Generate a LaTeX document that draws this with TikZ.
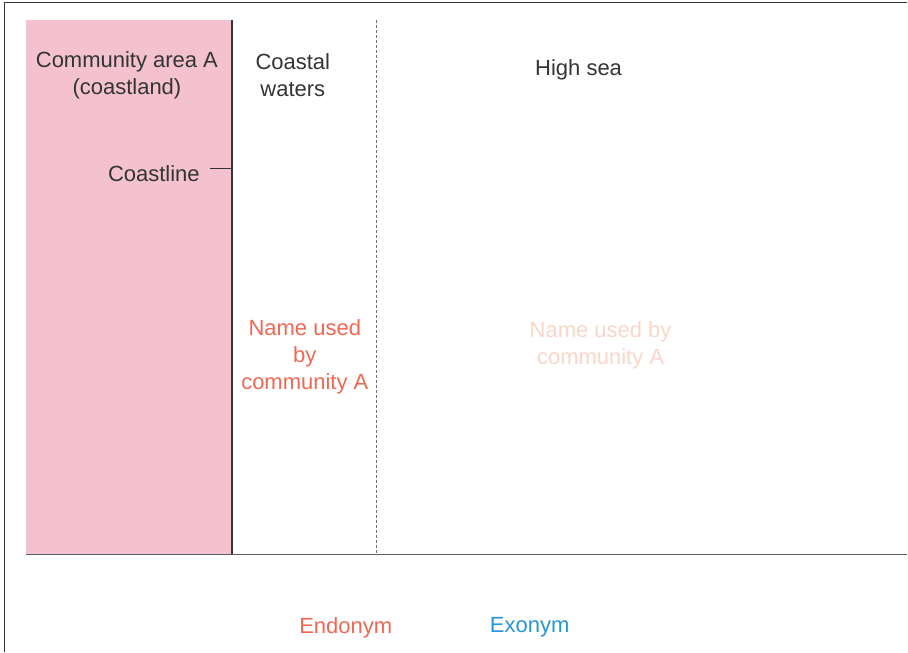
\documentclass[tikz,border=0pt]{standalone}
\usepackage{fontspec}
\setmainfont{Liberation Sans}
\definecolor{landpink}{RGB}{244,194,206}
\definecolor{endored}{RGB}{240,104,84}
\definecolor{fadered}{RGB}{250,214,200}
\definecolor{exoblue}{RGB}{38,150,216}
\definecolor{inkgray}{RGB}{50,52,54}

\begin{document}
\begin{tikzpicture}[x=1pt,y=-1pt,
  lbl/.style={text=inkgray,align=center,font=\fontsize{22}{27}\selectfont,inner sep=0pt}]
\path (0,0) rectangle (908,652);
\draw[inkgray,line width=1.2pt] (4.5,652) -- (4.5,2.5) -- (908,2.5);
\fill[landpink] (26,20) rectangle (232,555);
\draw[inkgray,line width=1.6pt] (232,20) -- (232,555);
\draw[inkgray!70,line width=0.6pt,dashed,dash pattern=on 3pt off 2pt] (377,20) -- (377,555);
\draw[inkgray!80,line width=1.2pt] (26,555) -- (908,555);
\node[lbl] (land) at (127,75) {Community area A\\(coastland)};
\node[lbl] (waters) at (293,75) {Coastal\\waters};
\node[lbl] (highsea) at (579,70) {High sea};
\node[lbl,anchor=east,inner xsep=10pt] (coastline) at (210,174) {Coastline};
\coordinate (shore) at (232,169);
\draw[inkgray,line width=0.8pt] (coastline.east |- shore) -- (shore);
\node[lbl,text=endored] (endoname) at (305,357) {Name used\\by\\community A};
\node[lbl,text=fadered] (exoname) at (601,346) {Name used by\\community A};
\node[lbl,text=endored] (endonym) at (346,628) {Endonym};
\node[lbl,text=exoblue] (exonym) at (530,628) {Exonym};
\end{tikzpicture}
\end{document}
